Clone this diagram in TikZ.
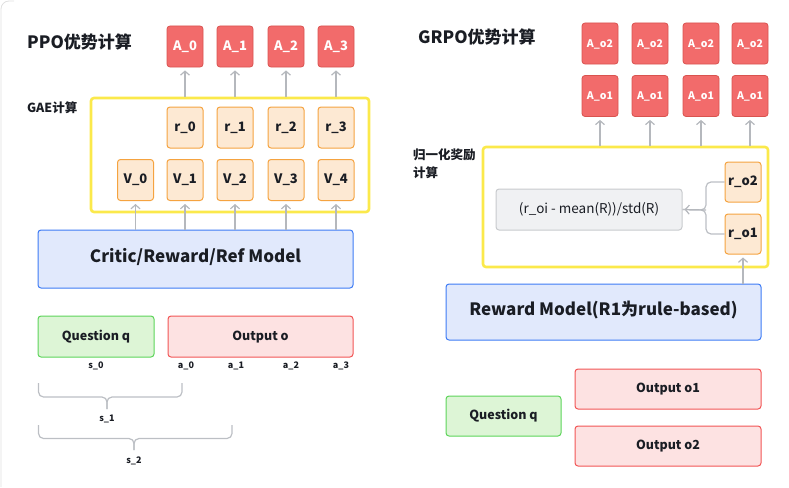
\documentclass[tikz,border=0pt]{standalone}
\usepackage{fontspec}
\setmainfont{Noto Sans CJK SC}
\usetikzlibrary{arrows.meta}
\definecolor{aFill}{HTML}{F26B6B}
\definecolor{aLine}{HTML}{D9534F}
\definecolor{oFill}{HTML}{FDE9D3}
\definecolor{oLine}{HTML}{F5A340}
\definecolor{yLine}{HTML}{FBE94B}
\definecolor{bFill}{HTML}{E1E9FC}
\definecolor{bLine}{HTML}{3D7BF5}
\definecolor{gFill}{HTML}{DDF5D6}
\definecolor{gLine}{HTML}{5DD45A}
\definecolor{pFill}{HTML}{FDE2E2}
\definecolor{pLine}{HTML}{F25555}
\definecolor{fFill}{HTML}{F0F1F3}
\definecolor{fLine}{HTML}{C8CACD}
\definecolor{arrGray}{HTML}{B5B8BD}
\definecolor{txt}{HTML}{1A1D24}
\tikzset{
  fs/.style={font=\bfseries\fontsize{#1}{#1}\selectfont},
  cc/.style={text height=0.72em, text depth=0pt},
  cellA/.style={draw=aLine, fill=aFill, line width=0.8pt, rounded corners=3pt,
    minimum width=36pt, minimum height=41pt, inner sep=0pt, text=white, fs=13, cc},
  cellAs/.style={cellA, fs=10.5},
  cellO/.style={draw=oLine, fill=oFill, line width=1pt, rounded corners=3pt,
    minimum width=36pt, minimum height=41pt, inner sep=0pt, text=txt, fs=13, cc},
  frame/.style={draw=yLine, line width=2.6pt, rounded corners=3pt, inner sep=0pt},
  model/.style={draw=bLine, fill=bFill, line width=1pt, rounded corners=3pt,
    inner sep=0pt, text=txt, fs=17, cc},
  qbox/.style={draw=gLine, fill=gFill, line width=1pt, rounded corners=3pt,
    inner sep=0pt, text=txt, fs=12.5, cc},
  obox/.style={draw=pLine, fill=pFill, line width=1pt, rounded corners=3pt,
    inner sep=0pt, text=txt, fs=12.5, cc},
  fbox/.style={draw=fLine, fill=fFill, line width=1pt, rounded corners=3pt,
    inner sep=0pt, text=txt, font=\fontsize{13.5}{13.5}\selectfont, cc},
  arr/.style={draw=arrGray, line width=1.2pt, -{Straight Barb[length=4pt,width=9pt]}, shorten >=3pt},
  brace/.style={draw=arrGray!90, line width=1.2pt, rounded corners=5pt},
  title/.style={anchor=west, inner sep=0pt, text=txt, fs=17},
  sub/.style={anchor=west, inner sep=0pt, text=txt, fs=12.5},
  tok/.style={inner sep=0pt, text=txt, fs=9},
}
\begin{document}
\begin{tikzpicture}[x=1pt,y=-1pt]
\useasboundingbox (0,0) rectangle (789,487);
% faint panel edge
\draw[draw=black!12, line width=0.8pt] (1,487) -- (1,9) arc[start angle=180, end angle=270, radius=8] -- (14,1);

% ---------------- PPO ----------------
\node[title] (ppoT) at (27,42) {PPO优势计算};
\node[sub] (gaeT) at (27,108) {GAE计算};

\node[frame, minimum width=278pt, minimum height=114pt] (gae) at (230,155) {};

\foreach \i/\x in {0/185,1/235,2/286,3/336}{
  \node[cellA] (A\i) at (\x,46.5) {A\_\i};
  \node[cellO] (r\i) at (\x,127.5) {r\_\i};
}
\foreach \i/\x in {0/135.5,1/185,2/235,3/286,4/336}{
  \node[cellO] (V\i) at (\x,180) {V\_\i};
}

\node[model, minimum width=315pt, minimum height=58pt] (critic) at (195.5,259) {Critic/Reward/Ref Model};

\foreach \i in {0,1,2,3}{
  \draw[arr] (A\i.south |- gae.north) -- (A\i.south);
}
\foreach \i in {0,1,2,3,4}{
  \draw[arr] (V\i.south |- critic.north) -- (V\i.south);
}

\node[qbox, minimum width=116pt, minimum height=41pt] (q1) at (96,336.5) {Question q};
\node[obox, minimum width=185pt, minimum height=41pt] (o) at (260.5,336.5) {Output o};

\node[tok] (s0) at (96,366) {s\_0};
\node[tok] (a0) at (186,366) {a\_0};
\node[tok] (a1) at (236,366) {a\_1};
\node[tok] (a2) at (291,366) {a\_2};
\node[tok] (a3) at (341,366) {a\_3};

% braces
\draw[brace] (38.5,383) -- (38.5,397) -- (107,397) -- (107,409);
\draw[brace] (182,383) -- (182,397) -- (107,397) -- (107,409);
\node[tok] (s1) at (107,419) {s\_1};
\draw[brace] (38.5,425) -- (38.5,438.5) -- (134,438.5) -- (134,450);
\draw[brace] (232,425) -- (232,438.5) -- (134,438.5) -- (134,450);
\node[tok] (s2) at (134,461) {s\_2};

% ---------------- GRPO ----------------
\node[title] (grpoT) at (418,37) {GRPO优势计算};
\node[anchor=north west, inner sep=0pt, text=txt, align=left,
      font=\bfseries\fontsize{12.5}{18}\selectfont] (normT) at (413,149) {归一化奖励\\计算};

\node[frame, minimum width=285pt, minimum height=120pt] (norm) at (625.5,207) {};

\foreach \j/\x in {1/600,2/650,3/701,4/750}{
  \node[cellAs] (Ao2\j) at (\x,43.5) {A\_o2};
  \node[cellAs] (Ao1\j) at (\x,96) {A\_o1};
  \draw[arr] (Ao1\j.south |- norm.north) -- (Ao1\j.south);
}

\node[cellO, minimum height=40pt] (ro2) at (743,182) {r\_o2};
\node[cellO, minimum height=40pt] (ro1) at (743,234) {r\_o1};
\node[fbox, minimum width=186pt, minimum height=41pt] (formula) at (589,209.5) {(r\_oi - mean(R))/std(R)};

\coordinate (bj) at (706,210);
\draw[brace] (ro2.west) -| (bj) -- (formula.east);
\draw[brace] (ro1.west) -| (bj) -- (formula.east);
\draw[arr, shorten >=2pt] (bj) -- (formula.east);

\node[model, minimum width=315pt, minimum height=56pt] (rm) at (603.5,312) {Reward Model(R1为rule-based)};
\draw[arr] (ro1.south |- rm.north) -- (ro1.south);

\node[qbox, minimum width=115pt, minimum height=40pt] (q2) at (503.5,416) {Question q};
\node[obox, minimum width=186pt, minimum height=40pt] (o1) at (668,389) {Output o1};
\node[obox, minimum width=186pt, minimum height=40pt] (o2) at (668,446) {Output o2};
\end{tikzpicture}
\end{document}
